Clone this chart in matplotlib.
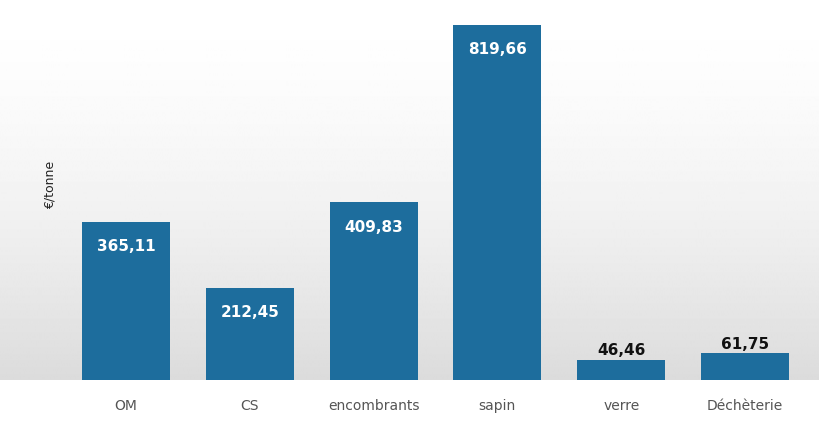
import numpy as np
import matplotlib.pyplot as plt

categories = ["OM", "CS", "encombrants", "sapin", "verre", "Déchèterie"]
values = [365.11, 212.45, 409.83, 819.66, 46.46, 61.75]
labels = ["365,11", "212,45", "409,83", "819,66", "46,46", "61,75"]

bar_color = "#1d6d9d"

fig = plt.figure(figsize=(8.19, 4.23), dpi=100)

# background gradient: white at the top, grey towards the baseline, white under it
bg = fig.add_axes([0, 0, 1, 1])
h = 423
col = np.ones(h)
base = 380
for i in range(base):
    col[i] = 1.0 - 0.14 * (i / base) ** 1.6
col[base:] = 1.0
img = np.tile(col[:, None], (1, 10))
bg.imshow(img, cmap="gray", vmin=0, vmax=1, aspect="auto", extent=[0, 1, 0, 1])
bg.axis("off")

ax = fig.add_axes([64 / 819, 43 / 423, 743 / 819, 380 / 423])
ax.patch.set_alpha(0)
x = np.arange(len(categories))

ax.bar(x, values, width=0.71, color=bar_color, zorder=2)

ax.set_xlim(-0.5, len(categories) - 0.5)
ax.set_ylim(0, 877)

for xi, v, lab in zip(x, values, labels):
    if v > 150:
        ax.text(xi, v - 25 / 0.433, lab, ha="center", va="center", color="white",
                fontsize=11, fontweight="bold", zorder=3)
    else:
        ax.text(xi, v + 4, lab, ha="center", va="bottom", color="#111111",
                fontsize=11, fontweight="bold", zorder=3)

ax.set_xticks(x)
ax.set_xticklabels(categories, fontsize=10, color="#555555")
ax.tick_params(axis="x", length=0, pad=14)
ax.set_yticks([])
for s in ax.spines.values():
    s.set_visible(False)

fig.text(50 / 819, 1 - 185 / 423, "€/tonne", rotation=90, ha="center", va="center",
         fontsize=9, color="#222222")

fig.savefig("out.png", dpi=100)
